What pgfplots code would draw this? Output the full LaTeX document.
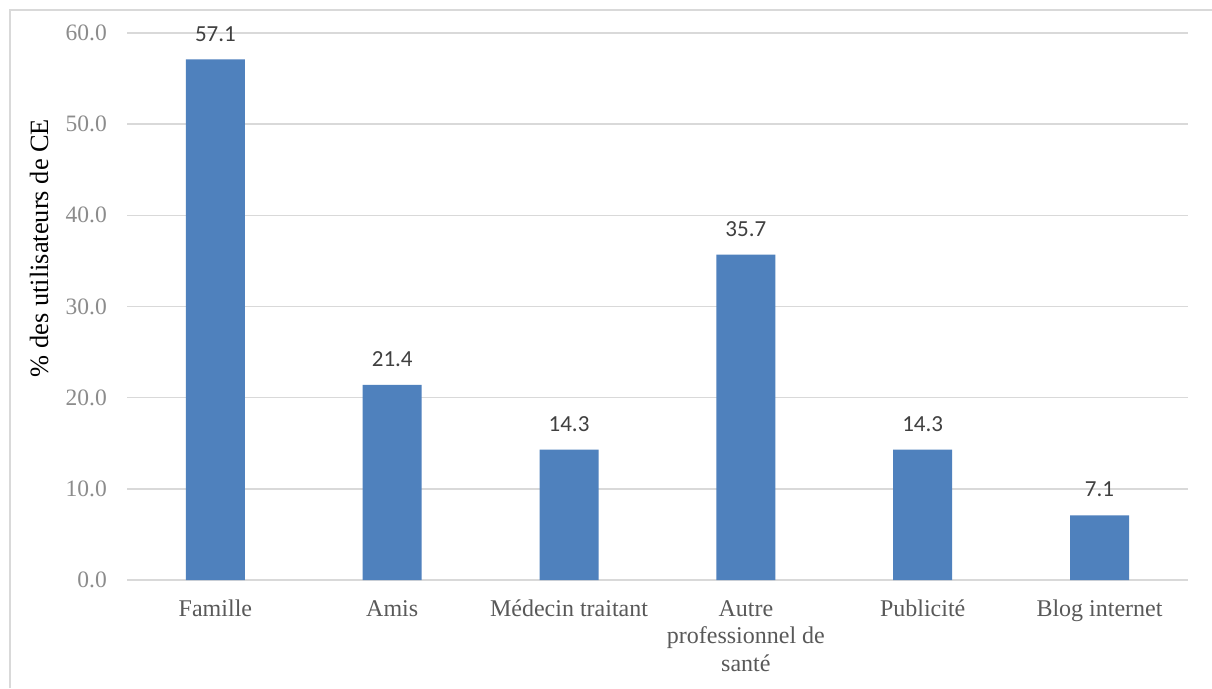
\documentclass[border=0pt]{standalone}
\usepackage{pgfplots}
\pgfplotsset{compat=1.18}
\usepackage{fontspec}
\setmainfont{Liberation Serif}
\newfontfamily\calibri{Carlito}
\definecolor{barblue}{HTML}{4F81BD}
\definecolor{gridgray}{HTML}{D9D9D9}
\definecolor{ticklab}{HTML}{8C8C8C}
\definecolor{catlab}{HTML}{595959}
\definecolor{datalab}{HTML}{404040}
\begin{document}
\begin{tikzpicture}[x=1pt,y=1pt]
\useasboundingbox (0,0) rectangle (1212,688);
\fill[white] (0,0) rectangle (1212,688);
\draw[gridgray, line width=1.5pt] (10,0) -- (10,678) -- (1212,678);
\begin{axis}[
  at={(127pt,108pt)}, anchor=south west,
  scale only axis, width=1061pt, height=547pt,
  xmin=-0.5, xmax=5.5, ymin=0, ymax=60,
  ytick={0,10,20,30,40,50,60},
  xtick={0,1,2,3,4,5},
  xticklabels={Famille, Amis, Médecin traitant, {Autre\\professionnel de\\santé}, Publicité, Blog internet},
  axis line style={draw=none},
  major tick length=0pt,
  ymajorgrids, grid style={gridgray, line width=1.5pt},
  /pgf/number format/assume math mode=true,
  yticklabel={\pgfmathprintnumber[fixed, fixed zerofill, precision=1]{\tick}},
  yticklabel style={anchor=east, inner sep=0pt, xshift=-20pt, text=ticklab, font=\fontsize{23.5}{27.5}\selectfont},
  xticklabel style={anchor=north, inner sep=0pt, yshift=-20pt, align=center, text=catlab, font=\fontsize{24}{27.5}\selectfont},
  ylabel={\% des utilisateurs de CE},
  ylabel style={at={(axis description cs:-0.0829,0.607)}, anchor=center, rotate=0, font=\fontsize{26.4}{30}\selectfont, text=black},
  ybar, bar width=59pt,
  nodes near coords={\pgfmathprintnumber[fixed, fixed zerofill, precision=1, assume math mode=true]{\pgfplotspointmeta}},
  every node near coord/.append style={anchor=south, inner sep=0pt, yshift=18pt, text=datalab, font=\calibri\fontsize{23}{27}\selectfont},
  clip=false,
]
\addplot[fill=barblue, draw=none] coordinates {(0,57.1) (1,21.4) (2,14.3) (3,35.7) (4,14.3) (5,7.1)};
\end{axis}
\end{tikzpicture}
\end{document}
